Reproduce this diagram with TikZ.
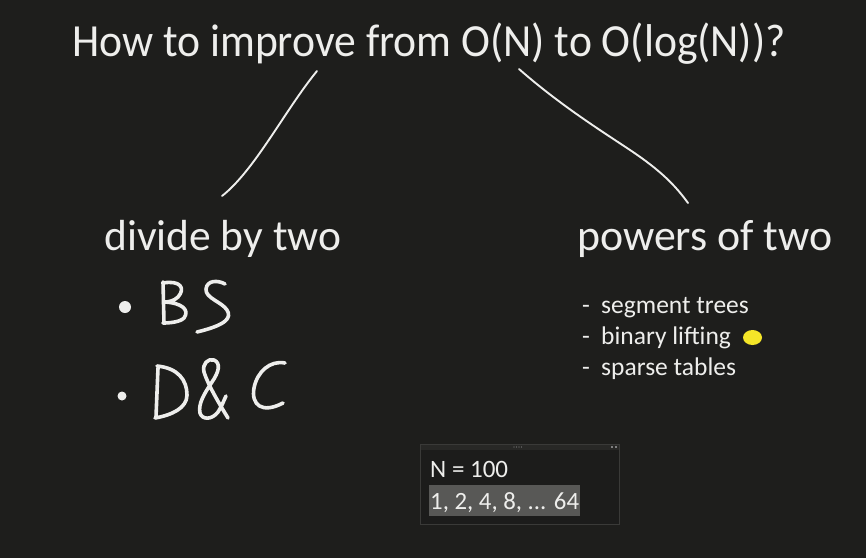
\documentclass[tikz,border=0pt]{standalone}
\usepackage{fontspec}
\setmainfont{Carlito}
\definecolor{bg}{RGB}{30,30,28}
\definecolor{ink}{RGB}{238,238,236}
\definecolor{winbg}{RGB}{28,28,27}
\definecolor{winborder}{RGB}{58,58,56}
\definecolor{winbar}{RGB}{40,40,38}
\definecolor{hl}{RGB}{88,88,86}
\definecolor{marker}{RGB}{245,230,40}
\begin{document}
\begin{tikzpicture}[x=1pt,y=-1pt,
  txt/.style={text=ink,inner sep=0pt,anchor=base west},
  pen/.style={draw=ink,line width=3.6pt,line cap=round,line join=round},
  conn/.style={draw=ink,line width=1.9pt,line cap=round}]
\fill[bg] (0,0) rectangle (866,558);
\useasboundingbox (0,0) rectangle (866,558);
% title and headings
\node[txt,font=\fontsize{46}{50}\selectfont] (title) at (72,56) {\scalebox{0.948}[1]{How to improve from O(N) to O(log(N))?}};
\node[txt,font=\fontsize{43.5}{48}\selectfont] (divide) at (104,250) {divide by two};
\node[txt,font=\fontsize{43.8}{48}\selectfont] (powers) at (577,250) {powers of two};
% connectors
\coordinate (l1) at (317,71);
\coordinate (l2) at (222,196);
\coordinate (r1) at (519,69);
\coordinate (r2) at (688,203);
\draw[conn] (l1) .. controls (285,110) and (255,170) .. (l2);
\draw[conn] (r1) .. controls (560,105) and (600,130) .. (630,150) .. controls (660,170) and (675,185) .. (r2);
% handwritten bullets
\fill[ink] (125,307) circle (6);
\fill[ink] (122,396) circle (4.5);
% B
\draw[pen] (163,282) -- (164,323);
\draw[pen] (163,283) .. controls (180,280) and (186,288) .. (178,297) .. controls (174,301) and (168,302) .. (165,302)
  .. controls (182,303) and (190,310) .. (184,318) .. controls (180,322) and (170,323) .. (163,323);
% S
\draw[pen] (225,284) .. controls (218,280) and (207,280) .. (206,289) .. controls (205,298) and (222,302) .. (227,310)
  .. controls (232,318) and (226,325) .. (197,332);
% D
\draw[pen] (158,368) -- (156,417);
\draw[pen] (157,366) .. controls (178,368) and (187,380) .. (187,395) .. controls (187,408) and (172,415) .. (155,418);
% &
\draw[pen] (228,418) .. controls (220,405) and (208,385) .. (204,372) .. controls (202,364) and (208,358) .. (214,360)
  .. controls (221,363) and (219,372) .. (212,382) .. controls (204,394) and (198,404) .. (200,413)
  .. controls (202,420) and (212,420) .. (218,412) .. controls (222,406) and (224,400) .. (226,396);
% C
\draw[pen] (285,363) .. controls (270,360) and (257,372) .. (254,388) .. controls (251,405) and (262,414) .. (283,403);
% list
\foreach \t/\y [count=\i] in {segment trees/313, binary lifting/344, sparse tables/375}{
  \node[txt,font=\fontsize{25.5}{30}\selectfont] (dash\i) at (582,\y) {-};
  \node[txt,font=\fontsize{25.5}{30}\selectfont] (item\i) at (601,\y) {\t};
}
\fill[marker] (752.5,337.5) ellipse (9.5 and 7.5);
% window
\draw[winborder,fill=winbg,line width=1pt] (420,444) rectangle (619,524);
\fill[winbar] (420.5,444.5) rectangle (618.5,450);
\foreach \xx in {514,516.5,519,521.5} \fill[gray] (\xx,447) circle (0.6);
\fill[gray] (611,446) rectangle (613,448);
\fill[gray] (615,446) rectangle (617,448);
\fill[hl] (429,485) rectangle (580,516);
\node[txt,font=\fontsize{25}{29}\selectfont] (nval) at (430,477) {N = 100};
\node[txt,font=\fontsize{24.8}{29}\selectfont] (seq) at (430,509) {1, 2, 4, 8, ... 64};
\end{tikzpicture}
\end{document}
